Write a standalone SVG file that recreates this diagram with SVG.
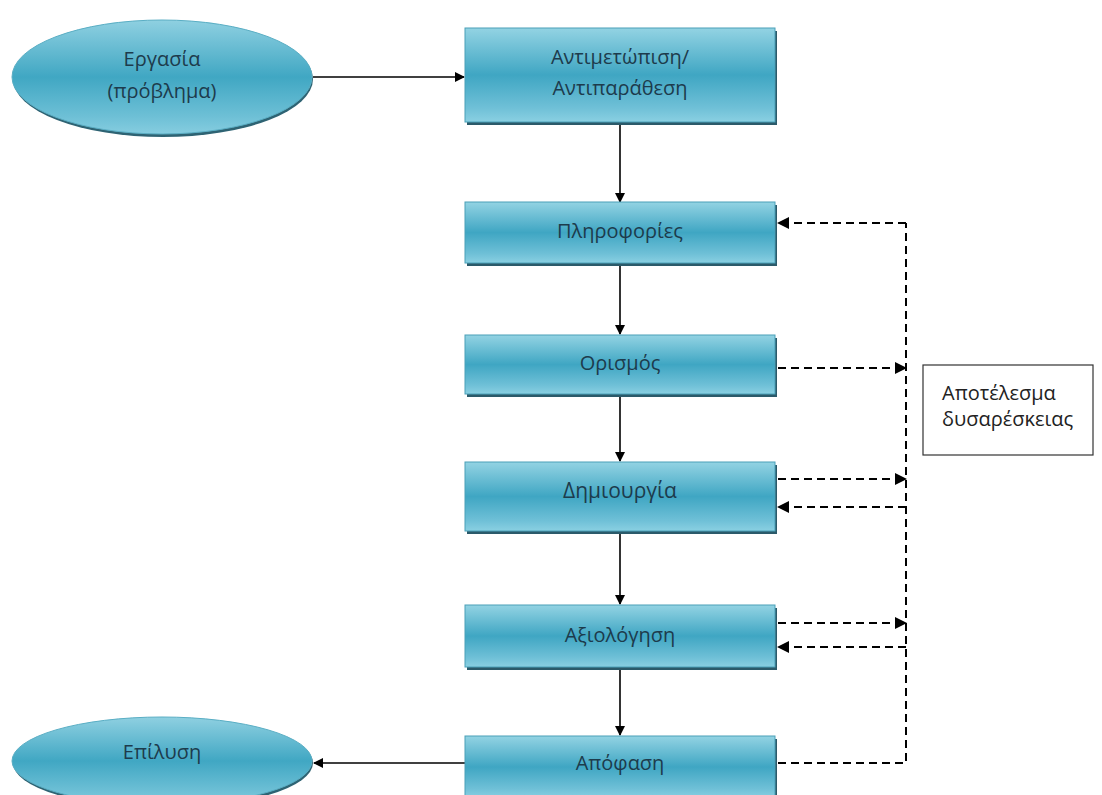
<svg xmlns="http://www.w3.org/2000/svg" width="1102" height="795" viewBox="0 0 1102 795">
  <style>
    .lbl { font-family: "Open Sans", "Noto Sans", sans-serif; font-size: 20px; fill: #1d3b4c; text-anchor: middle; }
    .note { font-family: "Open Sans", "Noto Sans", sans-serif; font-size: 20px; fill: #222; }
    .box { fill: url(#tealV); stroke: #4aa0b8; stroke-width: 1; }
    .shadow { fill: #2b5a6a; }
    .solid { stroke: #000; stroke-width: 1.6; fill: none; }
    .dash { stroke: #000; stroke-width: 2; fill: none; stroke-dasharray: 8 5; }
  </style>
  <defs>
    <linearGradient id="tealV" x1="0" y1="0" x2="0" y2="1">
      <stop offset="0" stop-color="#93d3e3"/>
      <stop offset="0.5" stop-color="#3fa6c3"/>
      <stop offset="0.85" stop-color="#6fc0d7"/>
      <stop offset="1" stop-color="#8ad0e2"/>
    </linearGradient>
    <linearGradient id="tealE" x1="0" y1="0" x2="0" y2="1">
      <stop offset="0" stop-color="#8fd0e1"/>
      <stop offset="0.5" stop-color="#40a7c3"/>
      <stop offset="0.85" stop-color="#6ec0d6"/>
      <stop offset="1" stop-color="#86cde0"/>
    </linearGradient>
    <marker id="ah" markerWidth="10" markerHeight="10" refX="9" refY="5" orient="auto" markerUnits="userSpaceOnUse">
      <path d="M0,0 L10,5 L0,10 Z" fill="#000"/>
    </marker>
    <marker id="ahd" markerWidth="12" markerHeight="12" refX="11" refY="6" orient="auto" markerUnits="userSpaceOnUse">
      <path d="M0,0 L12,6 L0,12 Z" fill="#000"/>
    </marker>
  </defs>
  <rect width="1102" height="795" fill="#fff"/>

  <g id="connectors">
    <!-- main flow -->
    <line class="solid" x1="313" y1="77" x2="464" y2="77" marker-end="url(#ah)"/>
    <line class="solid" x1="620" y1="125" x2="620" y2="202" marker-end="url(#ah)"/>
    <line class="solid" x1="620" y1="266" x2="620" y2="334" marker-end="url(#ah)"/>
    <line class="solid" x1="620" y1="397" x2="620" y2="461" marker-end="url(#ah)"/>
    <line class="solid" x1="620" y1="534" x2="620" y2="604" marker-end="url(#ah)"/>
    <line class="solid" x1="620" y1="670" x2="620" y2="735" marker-end="url(#ah)"/>
    <line class="solid" x1="465" y1="763" x2="314" y2="763" marker-end="url(#ah)"/>
    <!-- feedback loop -->
    <polyline class="dash" points="778,763 906,763 906,223"/>
    <line class="dash" x1="906" y1="223" x2="778" y2="223" marker-end="url(#ahd)"/>
    <line class="dash" x1="778" y1="368" x2="906" y2="368" marker-end="url(#ahd)"/>
    <line class="dash" x1="778" y1="479" x2="906" y2="479" marker-end="url(#ahd)"/>
    <line class="dash" x1="906" y1="507" x2="778" y2="507" marker-end="url(#ahd)"/>
    <line class="dash" x1="778" y1="623" x2="906" y2="623" marker-end="url(#ahd)"/>
    <line class="dash" x1="906" y1="647" x2="778" y2="647" marker-end="url(#ahd)"/>
  </g>

  <g id="task">
    <ellipse cx="163" cy="79" rx="150" ry="58" fill="#2e6373"/>
    <ellipse cx="162" cy="77" rx="150" ry="57" fill="url(#tealE)" stroke="#5aaec4" stroke-width="1"/>
    <text class="lbl" x="162" y="66">Εργασία</text>
    <text class="lbl" x="162" y="98">(πρόβλημα)</text>
  </g>

  <g id="confront">
    <rect class="shadow" x="467" y="31" width="310" height="94"/>
    <rect class="box" x="465" y="28" width="310" height="94"/>
    <text class="lbl" x="620" y="64">Αντιμετώπιση/</text>
    <text class="lbl" x="620" y="95">Αντιπαράθεση</text>
  </g>

  <g id="information">
    <rect class="shadow" x="467" y="205" width="310" height="61"/>
    <rect class="box" x="465" y="202" width="310" height="61"/>
    <text class="lbl" x="620" y="238">Πληροφορίες</text>
  </g>

  <g id="definition">
    <rect class="shadow" x="467" y="338" width="310" height="59"/>
    <rect class="box" x="465" y="335" width="310" height="59"/>
    <text class="lbl" x="620" y="370">Ορισμός</text>
  </g>

  <g id="creation">
    <rect class="shadow" x="467" y="465" width="310" height="69"/>
    <rect class="box" x="465" y="462" width="310" height="69"/>
    <text class="lbl" x="620" y="498" style="font-size:21px">Δημιουργία</text>
  </g>

  <g id="evaluation">
    <rect class="shadow" x="467" y="608" width="310" height="62"/>
    <rect class="box" x="465" y="605" width="310" height="62"/>
    <text class="lbl" x="620" y="642">Αξιολόγηση</text>
  </g>

  <g id="decision">
    <rect class="shadow" x="467" y="739" width="310" height="62"/>
    <rect class="box" x="465" y="736" width="310" height="62"/>
    <text class="lbl" x="620" y="770">Απόφαση</text>
  </g>

  <g id="resolution">
    <ellipse cx="163" cy="763" rx="150" ry="45" fill="#2e6373"/>
    <ellipse cx="162" cy="761" rx="150" ry="44" fill="url(#tealE)" stroke="#5aaec4" stroke-width="1"/>
    <text class="lbl" x="162" y="759">Επίλυση</text>
  </g>

  <g id="dissatisfaction">
    <rect x="923" y="365" width="170" height="90" fill="#fff" stroke="#333" stroke-width="1.2"/>
    <text class="note" x="942" y="400">Αποτέλεσμα</text>
    <text class="note" x="942" y="426">δυσαρέσκειας</text>
  </g>
</svg>
